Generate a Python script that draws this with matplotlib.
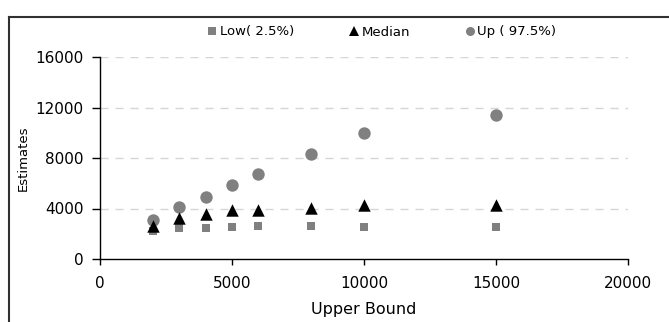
import matplotlib
matplotlib.use("Agg")
import matplotlib.pyplot as plt
from matplotlib.lines import Line2D

plt.rcParams['font.family'] = ['DejaVu Sans']

# data
upper_bound = [2000, 3000, 4000, 5000, 6000, 8000, 10000, 15000]
low = [2250, 2450, 2450, 2530, 2620, 2620, 2530, 2530]
median = [2600, 3250, 3560, 3880, 3880, 4050, 4250, 4250]
up = [3080, 4100, 4880, 5900, 6700, 8300, 10000, 11400]

x_ticks = [0, 5000, 10000, 15000, 20000]
y_ticks = [0, 4000, 8000, 12000, 16000]

labels = ['Low( 2.5%)', 'Median', 'Up ( 97.5%)']

W, H = 669, 322
fig = plt.figure(figsize=(W / 100, H / 100), dpi=100)
ax = fig.add_axes([100 / W, 1 - 259 / H, 528 / W, 202 / H])

ax.scatter(upper_bound, low, marker='s', s=36, color='#808080', lw=0, zorder=3)
ax.scatter(upper_bound, median, marker='^', s=80, color='black', lw=0, zorder=4)
ax.scatter(upper_bound, up, marker='o', s=80, color='#808080', lw=0, zorder=2)

ax.set_xlim(0, 20000)
ax.set_ylim(0, 16000)
ax.set_xticks(x_ticks)
ax.set_yticks(y_ticks)
for y in y_ticks[1:]:
    ax.axhline(y, color='#d6d6d6', lw=1, ls=(0, (5.8, 5)), zorder=1)

for s in ['top', 'right']:
    ax.spines[s].set_visible(False)
ax.spines['left'].set_linewidth(1)
ax.spines['bottom'].set_linewidth(1)
ax.tick_params(axis='both', direction='out', width=1, labelsize=11)
ax.tick_params(axis='x', length=4.5, pad=8)
ax.tick_params(axis='y', length=5.8, pad=6)

ax.set_xlabel('Upper Bound', fontsize=11.5, labelpad=8)
ax.set_ylabel('Estimates', fontsize=9.5, labelpad=4)

handles = [
    Line2D([], [], marker='s', ls='', color='#808080', markersize=5.5, markeredgewidth=0),
    Line2D([], [], marker='^', ls='', color='black', markersize=7, markeredgewidth=0),
    Line2D([], [], marker='o', ls='', color='#808080', markersize=6.5, markeredgewidth=0),
]
fig.legend(handles, labels, ncol=3, frameon=False,
           loc='center', bbox_to_anchor=(381 / W, 1 - 32 / H), fontsize=9.5,
           handletextpad=0.1, columnspacing=4.0, handlelength=1.0)

# outer chart frame (only top and left edges visible in the crop)
fig.add_artist(Line2D([9 / W, 1], [1 - 17 / H, 1 - 17 / H], color='#303030', lw=1.5,
                      transform=fig.transFigure))
fig.add_artist(Line2D([9 / W, 9 / W], [1 - 17 / H, 0], color='#303030', lw=1.5,
                      transform=fig.transFigure))

fig.savefig('out.png', dpi=100)
